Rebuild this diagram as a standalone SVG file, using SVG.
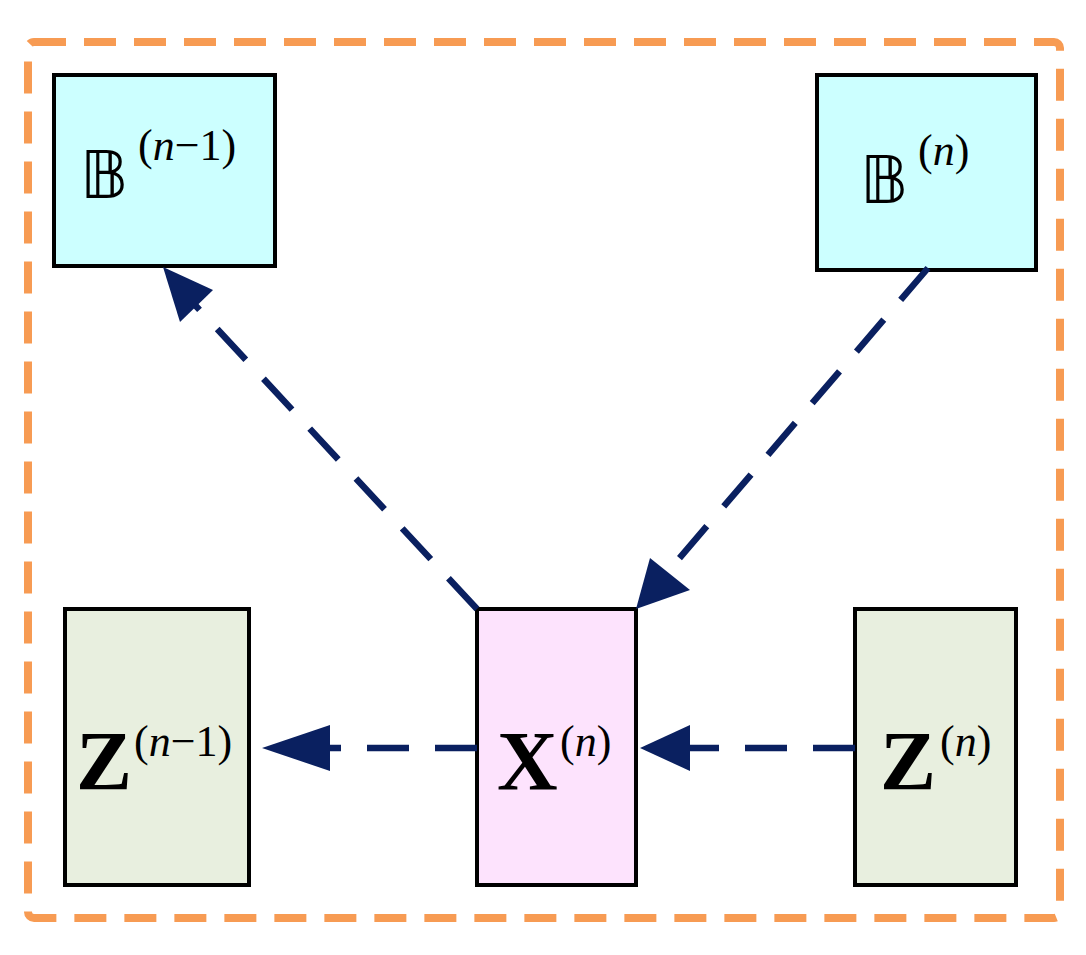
<svg xmlns="http://www.w3.org/2000/svg" width="1086" height="955" viewBox="0 0 1086 955">
<style>
.box{stroke:#000;stroke-width:4}
.cn{stroke:#0A2060;stroke-width:6.5;stroke-dasharray:42 26;fill:none}
.ah{fill:#0A2060}
.t{font-family:"Liberation Serif",serif;fill:#000}
.sup{font-family:"Liberation Serif",serif;font-size:44px;fill:#000}
</style>
<rect x="28" y="42" width="1032" height="876" rx="6" fill="none" stroke="#F79B53" stroke-width="8" stroke-dasharray="32 18"/>
<g id="B_nm1"><rect class="box" x="54" y="75" width="221" height="191" fill="#CCFFFF"/>
<text class="t" x="80" y="198" font-size="66">𝔹</text><text class="sup" x="138" y="160">(<tspan font-style="italic">n</tspan>−1)</text></g>
<g id="B_n"><rect class="box" x="817" y="75" width="219" height="195" fill="#CCFFFF"/>
<text class="t" x="860" y="203" font-size="66">𝔹</text><text class="sup" x="918" y="165">(<tspan font-style="italic">n</tspan>)</text></g>
<g id="Z_nm1"><rect class="box" x="65" y="609" width="184" height="276" fill="#E8EFDF"/>
<text class="t" x="76" y="790" font-size="84" font-weight="bold">Z</text><text class="sup" x="134" y="756">(<tspan font-style="italic">n</tspan>−1)</text></g>
<g id="X_n"><rect class="box" x="477" y="609" width="159" height="276" fill="#FDE3FD"/>
<text class="t" x="497" y="790" font-size="84" font-weight="bold">X</text><text class="sup" x="560" y="756">(<tspan font-style="italic">n</tspan>)</text></g>
<g id="Z_n"><rect class="box" x="855" y="609" width="161" height="276" fill="#E8EFDF"/>
<text class="t" x="880" y="790" font-size="84" font-weight="bold">Z</text><text class="sup" x="940" y="756">(<tspan font-style="italic">n</tspan>)</text></g>
<g id="connectors">
<line class="cn" x1="477" y1="609" x2="195" y2="305"/>
<polygon class="ah" points="163,267 213,290 180,322"/>
<line class="cn" x1="928" y1="268" x2="665" y2="575"/>
<polygon class="ah" points="636,609 650,558 690,590"/>
<line class="cn" x1="477" y1="748" x2="330" y2="748"/>
<polygon class="ah" points="262,748 330,725 330,771"/>
<line class="cn" x1="855" y1="748" x2="690" y2="748"/>
<polygon class="ah" points="640,748 690,725 690,771"/>
</g>
</svg>
